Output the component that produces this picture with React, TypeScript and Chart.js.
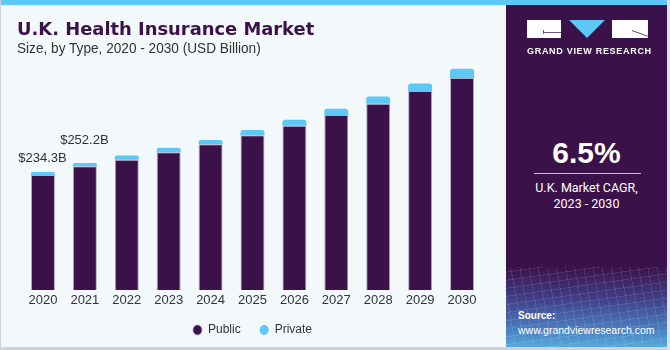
import React, { useEffect, useRef } from "react";
import { Chart, registerables } from "chart.js";

Chart.register(...registerables);

const years = ["2020", "2021", "2022", "2023", "2024", "2025", "2026", "2027", "2028", "2029", "2030"];
const publicValues = [228.2, 245.7, 258.5, 273.4, 289.0, 307.2, 325.8, 347.0, 369.5, 394.6, 420.7];
const privateValues = [6.1, 6.5, 8.2, 8.8, 8.5, 10.4, 12.0, 12.4, 14.2, 15.2, 18.5];
const valueLabels = ["$234.3B", "$252.2B"];

const PURPLE = "#3a1249";
const BLUE = "#5bc8f5";
const FONT = "'Liberation Sans', Arial, Helvetica, sans-serif";

export default function App() {
  const ref = useRef<HTMLCanvasElement>(null);

  useEffect(() => {
    const labelPlugin = {
      id: "valueLabels",
      afterDatasetsDraw(chart: any) {
        const ctx = chart.ctx;
        const meta = chart.getDatasetMeta(1);
        const gaps = [9.5, 18.5];
        ctx.save();
        ctx.font = `13px ${FONT}`;
        ctx.fillStyle = "#333333";
        ctx.textAlign = "center";
        ctx.textBaseline = "alphabetic";
        valueLabels.forEach((t, i) => {
          const el = meta.data[i];
          ctx.fillText(t, el.x - 0.5, el.y - gaps[i]);
        });
        ctx.restore();
      },
    };

    const chart = new Chart(ref.current as HTMLCanvasElement, {
      type: "bar",
      data: {
        labels: years,
        datasets: [
          {
            label: "Public",
            data: publicValues,
            backgroundColor: PURPLE,
            borderColor: "rgba(160,140,180,0.75)",
            borderWidth: 1,
          },
          {
            label: "Private",
            data: privateValues,
            backgroundColor: BLUE,
            borderRadius: { topLeft: 3, topRight: 3, bottomLeft: 0, bottomRight: 0 },
            borderSkipped: false,
          },
        ],
      },
      options: {
        animation: false,
        responsive: false,
        maintainAspectRatio: false,
        layout: { padding: { top: 38, left: 22, right: 22, bottom: 4 } },
        datasets: { bar: { barPercentage: 0.573, categoryPercentage: 1 } },
        scales: {
          x: {
            stacked: true,
            grid: { display: false, drawTicks: false },
            border: { display: false },
            ticks: { color: "#333333", font: { size: 13, family: FONT }, padding: 3 },
            afterFit: (scale: any) => {
              scale.height = 15;
            },
          },
          y: { stacked: true, display: false, min: 0, max: 500 },
        },
        plugins: {
          legend: {
            position: "bottom",
            labels: {
              usePointStyle: true,
              pointStyle: "circle",
              boxWidth: 9,
              boxHeight: 7,
              pointStyleWidth: 9,
              padding: 19,
              color: "#333333",
              font: { size: 12, family: FONT },
            },
          },
          tooltip: { enabled: false },
        },
      },
      plugins: [labelPlugin],
    } as any);
    return () => chart.destroy();
  }, []);

  return (
    <div
      style={{
        position: "absolute",
        left: 0,
        top: 0,
        width: 670,
        height: 350,
        background: "#f3f8fb",
        overflow: "hidden",
        fontFamily: FONT,
      }}
    >
      <div style={{ position: "absolute", left: 0, top: 0, width: 667, height: 5, background: BLUE }} />
      <div style={{ position: "absolute", left: 0, top: 0, width: 1, height: 350, background: "#cfd3d7" }} />
      <div style={{ position: "absolute", left: 0, top: 347, width: 670, height: 3, background: "#cfd3d7" }} />
      <div style={{ position: "absolute", left: 667, top: 0, width: 3, height: 350, background: "#dfe3e7" }} />
      <canvas ref={ref} width={505} height={350} style={{ position: "absolute", left: 0, top: 0 }} />
      <div
        style={{
          position: "absolute",
          left: 17,
          top: 18,
          fontSize: 17.9,
          fontWeight: "bold",
          fontFamily: "'DejaVu Sans', sans-serif",
          color: PURPLE,
          whiteSpace: "nowrap",
          lineHeight: "22px",
        }}
      >
        U.K. Health Insurance Market
      </div>
      <div
        style={{
          position: "absolute",
          left: 17,
          top: 40,
          fontSize: 14.5,
          color: "#333333",
          whiteSpace: "nowrap",
          lineHeight: "17px",
          transform: "scaleX(0.94)",
          transformOrigin: "0 0",
        }}
      >
        Size, by Type, 2020 - 2030 (USD Billion)
      </div>

      {/* right panel */}
      <div
        style={{
          position: "absolute",
          left: 506,
          top: 5,
          width: 161,
          height: 342,
          background: `linear-gradient(to bottom, ${PURPLE} 0px, ${PURPLE} 262px, #40418a 295px, #4a80c2 325px, #55a8dc 342px)`,
          overflow: "hidden",
        }}
      >
        <div
          style={{
            position: "absolute",
            left: 0,
            top: 262,
            width: 161,
            height: 80,
            backgroundImage:
              "repeating-linear-gradient(80deg, rgba(255,255,255,0.10) 0px, rgba(255,255,255,0.10) 1px, transparent 1px, transparent 9px), repeating-linear-gradient(-8deg, rgba(255,255,255,0.10) 0px, rgba(255,255,255,0.10) 1px, transparent 1px, transparent 8px)",
          }}
        />
        {/* logo */}
        <div style={{ position: "absolute", left: 21, top: 15, width: 34, height: 18, background: "#ffffff" }} />
        <div style={{ position: "absolute", left: 37, top: 27, width: 18, height: 1, background: "#6d5a7a" }} />
        <div style={{ position: "absolute", left: 37, top: 25, width: 1, height: 4, background: "#6d5a7a" }} />
        <div
          style={{
            position: "absolute",
            left: 63,
            top: 15,
            width: 0,
            height: 0,
            borderLeft: "18.5px solid transparent",
            borderRight: "18.5px solid transparent",
            borderTop: `18px solid ${BLUE}`,
          }}
        />
        <div style={{ position: "absolute", left: 106, top: 15, width: 36, height: 18, background: "#ffffff" }} />
        <div
          style={{
            position: "absolute",
            left: 126,
            top: 25,
            width: 17,
            height: 1,
            background: "#6d5a7a",
            transform: "rotate(20deg)",
            transformOrigin: "0 0",
          }}
        />
        <div
          style={{
            position: "absolute",
            left: 21,
            top: 41,
            width: 121,
            textAlign: "center",
            color: "#ffffff",
            fontSize: 9,
            fontWeight: "bold",
            letterSpacing: 0.7,
            lineHeight: "11px",
            whiteSpace: "nowrap",
          }}
        >
          GRAND VIEW RESEARCH
        </div>
        <div
          style={{
            position: "absolute",
            left: 0,
            top: 131,
            width: 161,
            textAlign: "center",
            color: "#ffffff",
            fontSize: 30,
            fontWeight: "bold",
            lineHeight: "34px",
          }}
        >
          6.5%
        </div>
        <div style={{ position: "absolute", left: 28, top: 168, width: 107, height: 1, background: "#c9bcd4" }} />
        <div
          style={{
            position: "absolute",
            left: 0,
            top: 175,
            width: 161,
            textAlign: "center",
            color: "#ffffff",
            fontSize: 12.5,
            fontFamily: "Roboto, sans-serif",
            lineHeight: "15.5px",
          }}
        >
          U.K. Market CAGR,
          <br />
          2023 - 2030
        </div>
        <div
          style={{
            position: "absolute",
            left: 12,
            top: 305,
            color: "#ffffff",
            fontSize: 10,
            fontWeight: "bold",
            lineHeight: "12px",
          }}
        >
          Source:
        </div>
        <div
          style={{
            position: "absolute",
            left: 12,
            top: 319,
            color: "#ffffff",
            fontSize: 10.5,
            lineHeight: "12px",
            whiteSpace: "nowrap",
          }}
        >
          www.grandviewresearch.com
        </div>
      </div>
    </div>
  );
}
